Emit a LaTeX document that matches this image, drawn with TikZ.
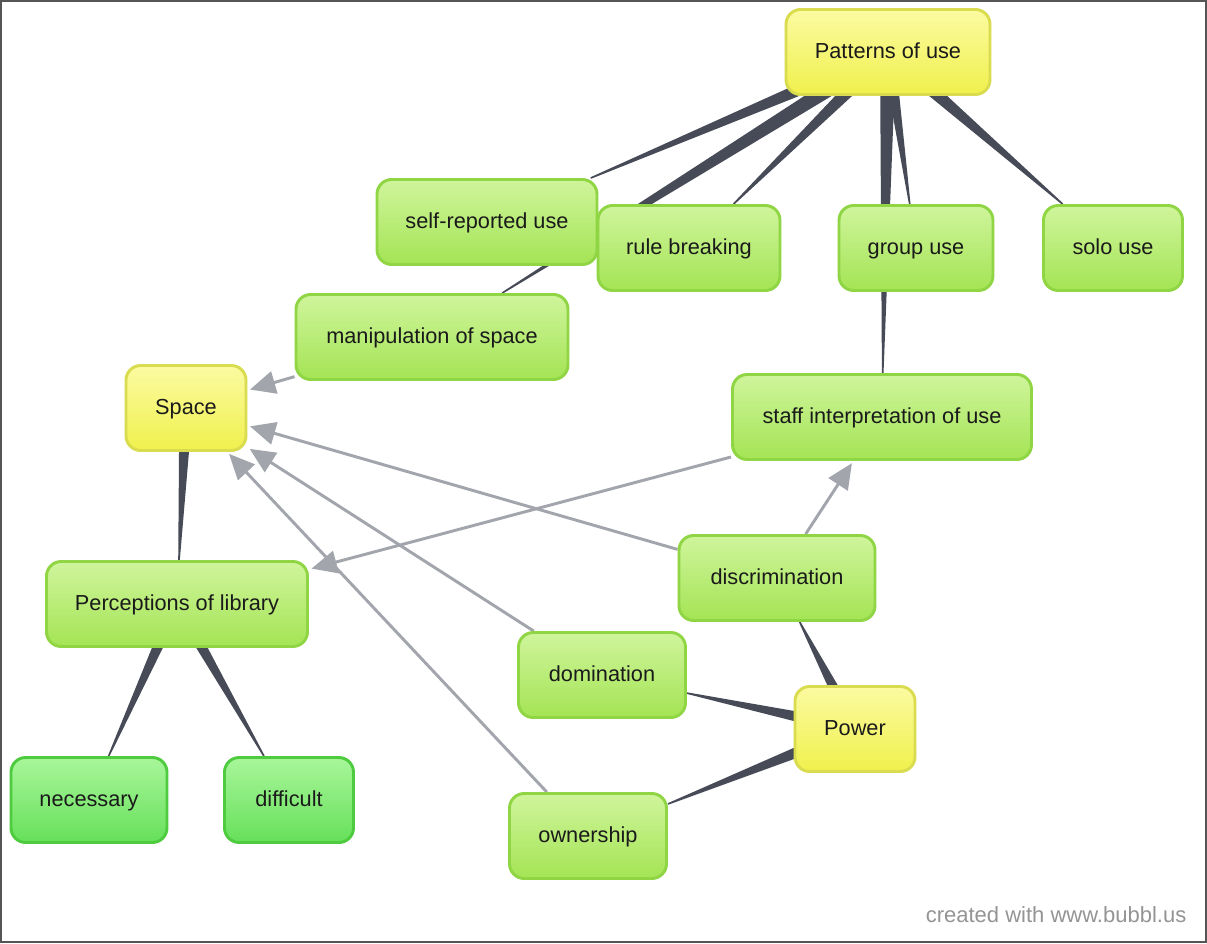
\documentclass[tikz,border=0pt]{standalone}
\usepackage{fontspec}
\setmainfont{Liberation Sans}
\usetikzlibrary{calc,backgrounds,arrows.meta}
\definecolor{ytop}{HTML}{FBFBA2}
\definecolor{ybot}{HTML}{F0F04C}
\definecolor{yedge}{HTML}{D9DC4E}
\definecolor{gtop}{HTML}{CFF59C}
\definecolor{gbot}{HTML}{A4E454}
\definecolor{gedge}{HTML}{8FD544}
\definecolor{btop}{HTML}{A8F69A}
\definecolor{bbot}{HTML}{66E05A}
\definecolor{bedge}{HTML}{4FCB40}
\definecolor{conncol}{HTML}{474B57}
\definecolor{arrcol}{HTML}{A3A5AD}
\definecolor{txtcol}{HTML}{1A1A1A}
\definecolor{framecol}{HTML}{555555}
\newcommand\taper[3]{%
  \path (#1.center) -- (#2) coordinate[pos=1] (tp);
  \fill[conn] ($(#1.center)!#3!90:(tp)$) -- ($(tp)!0.6pt!-90:(#1.center)$) --
    ($(tp)!0.6pt!90:(#1.center)$) -- ($(#1.center)!#3!-90:(tp)$) -- cycle;
}
\begin{document}
\begin{tikzpicture}[x=0.75pt,y=-0.75pt,
  box/.style={rounded corners=11pt, line width=2.2pt, minimum height=63.75pt,
    inner sep=0pt, text height=12pt, text depth=3pt, text=txtcol,
    font=\fontsize{16.3}{19}\selectfont},
  ybox/.style={box, draw=yedge, top color=ytop, bottom color=ybot},
  gbox/.style={box, draw=gedge, top color=gtop, bottom color=gbot},
  bbox/.style={box, draw=bedge, top color=btop, bottom color=bbot},
  conn/.style={fill=conncol},
  arr/.style={draw=arrcol, line width=2.2pt, shorten >=2pt,
    -{Triangle[length=19pt,width=17pt]}},
  framestyle/.style={draw=framecol, line width=1.5pt}
]
\useasboundingbox (0,0) rectangle (1207,943);

\node[ybox, minimum width=153pt]    (pat)   at (888,52)  {Patterns of use};
\node[gbox, minimum width=165pt]    (self)  at (487,222) {self-reported use};
\node[gbox, minimum width=136.5pt]  (rule)  at (689,248) {rule breaking};
\node[gbox, minimum width=115.5pt]  (group) at (916,248) {group use};
\node[gbox, minimum width=104.25pt] (solo)  at (1113,248) {solo use};
\node[gbox, minimum width=204pt]    (manip) at (432,337) {manipulation of space};
\node[ybox, minimum width=90pt]     (space) at (186,408) {Space};
\node[gbox, minimum width=224.25pt] (staff) at (882,417) {staff interpretation of use};
\node[gbox, minimum width=147pt]    (discr) at (777,578) {discrimination};
\node[gbox, minimum width=195.75pt] (perc)  at (177,604) {Perceptions of library};
\node[gbox, minimum width=125.25pt] (domin) at (602,675) {domination};
\node[ybox, minimum width=90pt]     (power) at (855,729) {Power};
\node[bbox, minimum width=117pt]    (nec)   at (89,800)  {necessary};
\node[bbox, minimum width=96.75pt]  (diff)  at (289,800) {difficult};
\node[gbox, minimum width=117.75pt] (own)   at (588,836) {ownership};

\node[anchor=east, text=black!42, font=\fontsize{16.5}{19}\selectfont] (credit) at (1191,915) {created with www.bubbl.us};

\begin{pgfonlayer}{background}
  \fill[white] (0,0) rectangle (1207,943);
  \taper{pat}{self}{6pt}
  \taper{pat}{manip}{6.5pt}
  \taper{pat}{rule}{6pt}
  \taper{pat}{staff}{6pt}
  \taper{pat}{group}{5pt}
  \taper{pat}{solo}{6pt}
  \taper{space}{perc}{5pt}
  \taper{perc}{nec}{5pt}
  \taper{perc}{diff}{5pt}
  \taper{power}{discr}{5.5pt}
  \taper{power}{domin}{5.5pt}
  \taper{power}{own}{5.5pt}
  \draw[arr] (manip) -- (space);
  \draw[arr] (discr) -- (space);
  \draw[arr] (domin) -- (space);
  \draw[arr] (own) -- (space);
  \draw[arr] (discr) -- (staff);
  \draw[arr] (staff) -- (perc);
\end{pgfonlayer}

\draw[framestyle] (0.8,0.8) rectangle (1206.2,942.2);
\end{tikzpicture}
\end{document}
